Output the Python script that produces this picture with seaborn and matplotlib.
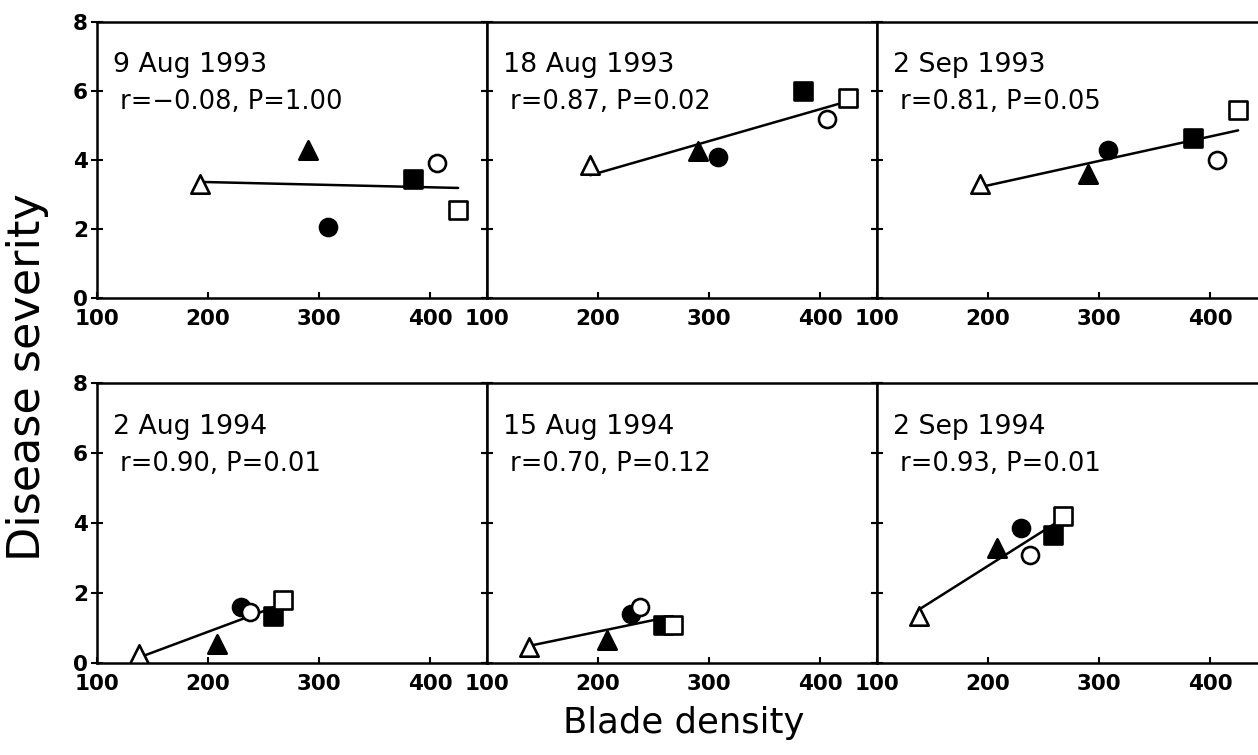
import numpy as np
import pandas as pd
import matplotlib
matplotlib.use("Agg")
import matplotlib.pyplot as plt
import seaborn as sns

# treatment order: open triangle, filled triangle, filled circle,
# open circle, filled square, open square
treatments = ["T1", "T2", "T3", "T4", "T5", "T6"]
markers = ["^", "^", "o", "o", "s", "s"]
filled = [False, True, True, False, True, False]

density_1993 = [193, 290, 308, 406, 384, 425]
density_1994 = [138, 208, 230, 238, 258, 267]

dates = ["9 Aug 1993", "18 Aug 1993", "2 Sep 1993",
         "2 Aug 1994", "15 Aug 1994", "2 Sep 1994"]
stats = ["r=\u22120.08, P=1.00", "r=0.87, P=0.02", "r=0.81, P=0.05",
         "r=0.90, P=0.01", "r=0.70, P=0.12", "r=0.93, P=0.01"]

sev_9aug93 = [3.3, 4.3, 2.05, 3.9, 3.45, 2.55]
sev_18aug93 = [3.85, 4.25, 4.1, 5.2, 6.0, 5.8]
sev_2sep93 = [3.3, 3.6, 4.3, 4.0, 4.65, 5.45]
sev_2aug94 = [0.25, 0.55, 1.6, 1.45, 1.35, 1.8]
sev_15aug94 = [0.45, 0.65, 1.4, 1.6, 1.1, 1.1]
sev_2sep94 = [1.35, 3.3, 3.85, 3.1, 3.65, 4.2]

severities = [sev_9aug93, sev_18aug93, sev_2sep93,
              sev_2aug94, sev_15aug94, sev_2sep94]
densities = [density_1993] * 3 + [density_1994] * 3

sns.set_theme(style="ticks")
plt.rcParams['font.family'] = ['DejaVu Sans']
plt.rcParams['text.color'] = 'black'
plt.rcParams['xtick.color'] = 'black'
plt.rcParams['ytick.color'] = 'black'
plt.rcParams['axes.labelcolor'] = 'black'

fig = plt.figure(figsize=(12.58, 7.55), dpi=100)

left = 97 / 1258
w = 390 / 1258
rows = [(1 - 298 / 755, 276 / 755), (1 - 663 / 755, 280 / 755)]
sizes = {"^": 175, "o": 150, "s": 165}

for k in range(6):
    r, c = divmod(k, 3)
    bottom, h = rows[r]
    ax = fig.add_axes([left + c * w, bottom, w, h])
    df = pd.DataFrame({"density": densities[k], "severity": severities[k],
                       "treatment": treatments})

    sns.regplot(data=df, x="density", y="severity", ax=ax, scatter=False,
                ci=None, color="black", line_kws={"linewidth": 1.8, "zorder": 2})

    for i, t in enumerate(treatments):
        sub = df[df["treatment"] == t]
        sns.scatterplot(data=sub, x="density", y="severity", ax=ax,
                        marker=markers[i], s=sizes[markers[i]],
                        color="black" if filled[i] else "white",
                        edgecolor="black", linewidth=1.9,
                        zorder=3 if filled[i] else 4, legend=False)

    ax.set_xlim(100, 451)
    ax.set_ylim(0, 8)
    ax.set_xticks([100, 200, 300, 400])
    ax.set_yticks([0, 2, 4, 6, 8])
    ax.set_xlabel("")
    ax.set_ylabel("")
    for sp in ax.spines.values():
        sp.set_linewidth(1.8)
        sp.set_color("black")
    ax.tick_params(axis="x", direction="in", length=4, width=1.5, pad=8,
                   labelsize=15.5)
    ax.tick_params(axis="y", direction="inout", length=9, width=1.5,
                   right=True, labelsize=15.5, pad=2)
    for lab in ax.get_xticklabels() + ax.get_yticklabels():
        lab.set_fontweight("bold")
    if c != 0:
        ax.set_yticklabels([])

    ax.text(0.041, 0.844, dates[k], transform=ax.transAxes, fontsize=19.3,
            va="center", ha="left")
    ax.text(0.059, 0.71, stats[k], transform=ax.transAxes, fontsize=18.5,
            va="center", ha="left")

fig.text(28 / 1258, 1 - 377 / 755, "Disease severity", rotation=90,
         fontsize=32, va="center", ha="center")
fig.text(684 / 1258, 1 - 723 / 755, "Blade density", fontsize=25.5,
         va="center", ha="center")

fig.savefig("out.png", dpi=100)
